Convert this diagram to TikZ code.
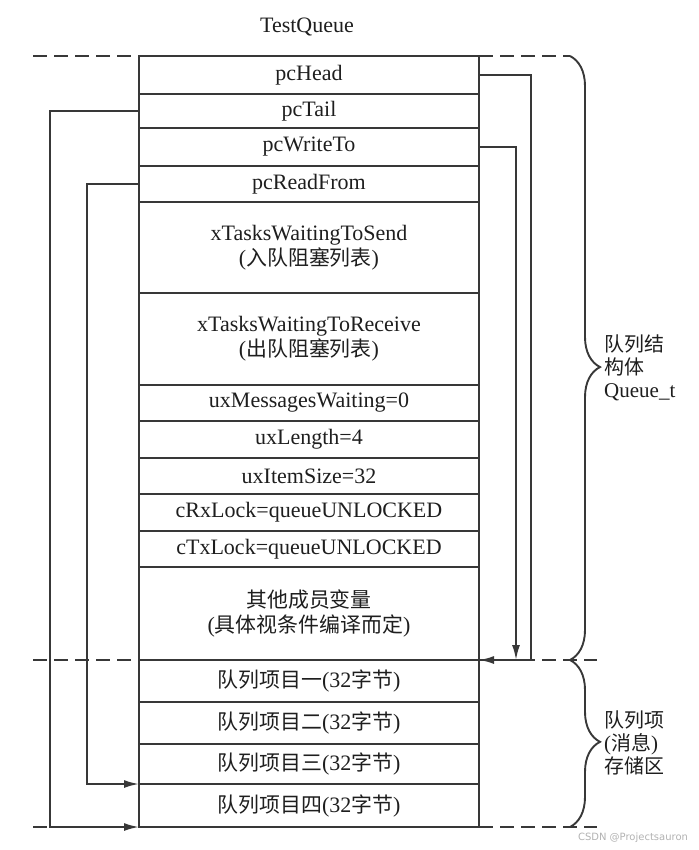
\documentclass[tikz,border=0pt]{standalone}
\usepackage{fontspec}
\setmainfont{Liberation Serif}
\newfontfamily\cjk[Scale=0.95]{Noto Sans CJK SC}
\newfontfamily\wmfont{DejaVu Sans}
\usetikzlibrary{arrows.meta,positioning,decorations.pathreplacing}
\definecolor{qline}{HTML}{383838}
\definecolor{qtext}{HTML}{1E1E1E}
\newcommand{\qarrow}{-{Latex[length=15pt,width=8pt]}}
\newcommand{\zh}[1]{{\cjk #1}}

\tikzset{
  cell/.style={draw=qline, line width=1.9pt, minimum width=340pt, inner sep=0pt,
    outer sep=0pt, align=center, text=qtext, font=\fontsize{22}{25}\selectfont},
  bound/.style={qline, line width=1.9pt, dash pattern=on 14pt off 7pt},
  link/.style={qline, line width=1.9pt, \qarrow},
  qbrace/.style={qline, line width=1.9pt, decorate,
    decoration={brace, amplitude=30pt, aspect=#1}},
  qbrace/.default=0.5,
  side/.style={anchor=west, align=left, inner sep=0pt, text=qtext,
    font=\fontsize{21}{23}\selectfont},
}

\begin{document}
\begin{tikzpicture}[x=1pt,y=-1pt]
\useasboundingbox (0,0) rectangle (698,850);

\node[text=qtext, font=\fontsize{22}{24}\selectfont] (title) at (307,27) {TestQueue};

% Queue_t
\node[cell, minimum height=38pt] (head) at (309,75) {pcHead};
\node[cell, minimum height=34pt, below=0pt of head] (tail) {pcTail};
\node[cell, minimum height=38pt, below=0pt of tail] (write) {pcWriteTo};
\node[cell, minimum height=36pt, below=0pt of write] (read) {pcReadFrom};
\node[cell, minimum height=91pt, below=0pt of read] (send) {xTasksWaitingToSend\\(\zh{入队阻塞列表})};
\node[cell, minimum height=92pt, below=0pt of send] (recv) {xTasksWaitingToReceive\\(\zh{出队阻塞列表})};
\node[cell, minimum height=36pt, below=0pt of recv] (msgs) {uxMessagesWaiting=0};
\node[cell, minimum height=37pt, below=0pt of msgs] (len) {uxLength=4};
\node[cell, minimum height=36pt, below=0pt of len] (size) {uxItemSize=32};
\node[cell, minimum height=37pt, below=0pt of size] (rxlock) {cRxLock=queueUNLOCKED};
\node[cell, minimum height=36pt, below=0pt of rxlock] (txlock) {cTxLock=queueUNLOCKED};
\node[cell, minimum height=93pt, below=0pt of txlock] (other) {\zh{其他成员变量}\\(\zh{具体视条件编译而定})};

% storage area
\node[cell, minimum height=42pt, below=0pt of other] (item1) {\zh{队列项目一}(32\zh{字节})};
\node[cell, minimum height=42pt, below=0pt of item1] (item2) {\zh{队列项目二}(32\zh{字节})};
\node[cell, minimum height=40pt, below=0pt of item2] (item3) {\zh{队列项目三}(32\zh{字节})};
\node[cell, minimum height=43pt, below=0pt of item3] (item4) {\zh{队列项目四}(32\zh{字节})};

\coordinate (lend) at (33,0);
\coordinate (rend) at (597,0);
\coordinate (brc) at (570,0);
\coordinate (tailbus) at (50,0);
\coordinate (readbus) at (87,0);
\coordinate (writebus) at (516,0);
\coordinate (headbus) at (531,0);

% boundaries
\draw[bound] (lend |- head.north) -- (head.north west);
\draw[bound] (head.north east) -- (brc |- head.north);
\draw[bound] (lend |- item1.north) -- (item1.north west);
\draw[bound] (item1.north east) -- (rend |- item1.north);
\draw[bound] (lend |- item4.south) -- (item4.south west);
\draw[bound] (item4.south east) -- (rend |- item4.south);

% pointers
\draw[link] (tail.west) -- (tailbus |- tail.west) |- (item4.south west);
\draw[link] (read.west) -- (readbus |- read.west) |- (item4.north west);
\draw[link] (head.east) -- (headbus |- head.east) |- (item1.north east);
\draw[link] (write.east) -- (writebus |- write.east) -- (writebus |- item1.north);

% braces
\draw[qbrace=0.515] (brc |- head.north) -- (brc |- item1.north);
\draw[qbrace=0.49] (brc |- item1.north) -- (brc |- item4.south);
\node[side] (structlbl) at (604,368) {\zh{队列结}\\\zh{构体}\\Queue\_t};
\node[side] (itemlbl) at (604,743) {\zh{队列项}\\(\zh{消息})\\\zh{存储区}};

\node[text=gray!60, font=\wmfont\fontsize{10}{10}\selectfont] (mark) at (633,838) {CSDN @Projectsauron};
\end{tikzpicture}
\end{document}
